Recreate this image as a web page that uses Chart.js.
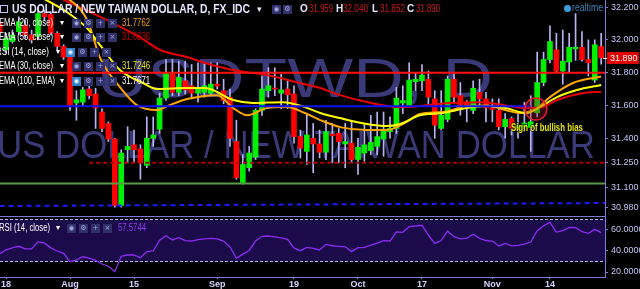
<!DOCTYPE html>
<html>
<head>
<meta charset="utf-8">
<title>USDTWD, D</title>
<script src="https://cdn.jsdelivr.net/npm/chart.js@4.4.1/dist/chart.umd.min.js"></script>
<style>
  html, body { margin: 0; padding: 0; background: #000; overflow: hidden; }
  #wrap { position: relative; width: 640px; height: 289px; background: #000; }
  canvas { position: absolute; left: 0; }
  .t { position: absolute; white-space: nowrap; line-height: 12px; height: 12px;
       font-family: "Liberation Sans", Arial, sans-serif; transform-origin: 0 50%; }
  .ic { position: absolute; width: 9px; height: 9px; background: #30306a; color: #a8a8e0;
        font: 7px/9px "DejaVu Sans", sans-serif; text-align: center; }
  .ic.hl { background: #2f7fc8; color: #e0f0ff; }
</style>
</head>
<body>
<div id="wrap">
  <canvas id="price" width="640" height="216" style="top:0"></canvas>
  <canvas id="rsi" width="640" height="73" style="top:216px"></canvas>
</div>
<script>
  // 日线 USD/TWD，索引 0 = Jul 18 2016，第一根是 Jul 15 (-1)
  const FIRST_IDX = -1;
  const opens = [32.10, 31.94, 31.99, 32.05, 32.09, 32.03, 32.02, 32.16, 32.155, 32.04, 31.96,
    31.895, 31.615, 31.62, 31.70, 31.67, 31.56, 31.49, 31.395, 30.99, 31.33,
    31.36, 31.335, 31.235, 31.40, 31.455, 31.645, 31.79, 31.68, 31.75, 31.72,
    31.675, 31.68, 31.675, 31.73, 31.69, 31.65, 31.38, 31.13, 31.22, 31.285,
    31.57, 31.69, 31.705, 31.675, 31.70, 31.67, 31.41, 31.32, 31.40, 31.365,
    31.315, 31.425, 31.43, 31.365, 31.37, 31.27, 31.31, 31.325, 31.35, 31.395,
    31.44, 31.46, 31.615, 31.60, 31.745, 31.75, 31.76, 31.64, 31.46, 31.515,
    31.76, 31.66, 31.62, 31.57, 31.68, 31.64, 31.585, 31.57, 31.47, 31.52,
    31.46, 31.468, 31.465, 31.555, 31.74, 31.88, 31.94, 31.81, 31.865, 31.945,
    31.955, 31.88, 31.755, 31.959];
  const highs = [32.13, 32.04, 32.06, 32.14, 32.12, 32.06, 32.20, 32.18, 32.17, 32.05, 31.97,
    31.90, 31.69, 31.71, 31.73, 31.705, 31.58, 31.50, 31.40, 31.33, 31.47,
    31.45, 31.36, 31.53, 31.53, 31.675, 31.88, 31.88, 31.87, 31.87, 31.85,
    31.86, 31.86, 31.86, 31.86, 31.76, 31.70, 31.51, 31.30, 31.35, 31.58,
    31.78, 31.83, 31.83, 31.79, 31.75, 31.72, 31.45, 31.54, 31.49, 31.45,
    31.51, 31.49, 31.46, 31.49, 31.51, 31.40, 31.49, 31.54, 31.56, 31.56,
    31.53, 31.71, 31.72, 31.86, 31.80, 31.85, 31.81, 31.69, 31.69, 31.78,
    31.79, 31.74, 31.63, 31.75, 31.76, 31.68, 31.64, 31.64, 31.55, 31.53,
    31.55, 31.62, 31.66, 31.925, 31.925, 32.085, 32.04, 32.06, 32.04, 32.16,
    32.05, 32.00, 32.00, 32.04];
  const lows = [32.02, 31.92, 31.98, 32.03, 32.01, 31.98, 32.00, 32.12, 32.03, 31.94, 31.88,
    31.57, 31.51, 31.60, 31.64, 31.46, 31.44, 31.38, 30.98, 30.98, 31.25,
    31.255, 31.15, 31.22, 31.35, 31.43, 31.63, 31.66, 31.66, 31.67, 31.64,
    31.62, 31.65, 31.66, 31.70, 31.61, 31.35, 31.15, 31.12, 31.20, 31.27,
    31.54, 31.65, 31.66, 31.58, 31.58, 31.37, 31.28, 31.24, 31.19, 31.28,
    31.27, 31.25, 31.25, 31.22, 31.25, 31.18, 31.26, 31.30, 31.30, 31.29,
    31.40, 31.43, 31.55, 31.59, 31.69, 31.69, 31.60, 31.40, 31.45, 31.50,
    31.62, 31.54, 31.50, 31.55, 31.59, 31.50, 31.50, 31.45, 31.40, 31.42,
    31.40, 31.44, 31.32, 31.53, 31.72, 31.86, 31.80, 31.73, 31.80, 31.875,
    31.87, 31.78, 31.74, 31.852];
  const closes = [32.05, 32.01, 32.03, 32.11, 32.03, 32.00, 32.16, 32.14, 32.04, 31.96, 31.895,
    31.60, 31.635, 31.695, 31.66, 31.585, 31.46, 31.395, 30.99, 31.31, 31.35,
    31.33, 31.25, 31.40, 31.42, 31.645, 31.795, 31.68, 31.77, 31.695, 31.675,
    31.71, 31.72, 31.73, 31.718, 31.63, 31.40, 31.16, 31.24, 31.31, 31.57,
    31.70, 31.72, 31.70, 31.695, 31.665, 31.41, 31.34, 31.42, 31.365, 31.315,
    31.44, 31.415, 31.38, 31.38, 31.27, 31.345, 31.36, 31.375, 31.41, 31.455,
    31.46, 31.645, 31.63, 31.755, 31.76, 31.785, 31.65, 31.48, 31.54, 31.76,
    31.65, 31.595, 31.60, 31.705, 31.64, 31.585, 31.575, 31.47, 31.515, 31.46,
    31.48, 31.493, 31.50, 31.74, 31.88, 31.99, 31.81, 31.87, 31.955, 31.955,
    31.88, 31.86, 31.97, 31.89];

  // RSI(14) 每根K线一个值
  const rsi = [37.5, 41, 43, 44.5, 42, 42, 48.9, 47.5, 43, 40, 37.8,
    29.8, 31.5, 34.5, 33.2, 31, 27.6, 25.5, 20.3, 35, 36.2,
    36.2, 33.5, 39.4, 40, 50.3, 54.6, 50.5, 52.7, 49.8, 49.5,
    50.8, 51.5, 52, 51.6, 49.5, 44, 33, 37, 40.5, 49.5,
    54, 54.3, 53.5, 52.5, 51, 43, 40.3, 43.5, 42.5, 41,
    46.3, 45, 44.5, 44, 39.4, 43.2, 43.5, 45.5, 47.5, 49.8,
    49.5, 58.2, 57.8, 63.3, 63.8, 64.5, 55, 47.3, 50, 59,
    53.6, 51.5, 52, 55.9, 52.1, 50, 49.5, 44.8, 47.3, 44.8,
    45.3, 46.5, 48.5, 59.3, 64, 67.3, 58, 59.5, 62.5, 62.2,
    58.4, 56.8, 60.6, 57.57];

  // 均线：点 (K线索引, 价格)
  const ema20Idx = [8, 12.7, 14.7, 17.8, 20.5, 23.6, 25.2, 28.3, 33, 35.5, 37.7, 40.8, 43.9, 46.7, 49.1,
    52.2, 56.4, 59.5, 62.3, 64.7, 68.3, 72, 75.2, 78, 80.3, 83, 85, 88.6, 93];
  const ema20Val = [32.30, 32.12, 31.89, 31.712, 31.60, 31.572, 31.596, 31.639, 31.663, 31.584, 31.54, 31.584,
    31.59, 31.554, 31.511, 31.468, 31.45, 31.45, 31.493, 31.548, 31.56, 31.596, 31.60, 31.572, 31.554,
    31.584, 31.651, 31.737, 31.7762];
  const ema30Idx = [5, 9.5, 12.7, 14.7, 17.8, 21.4, 23.6, 28.3, 31.1, 35.5, 38.6, 43.3, 46.7, 49.1, 52.2,
    56.4, 59.5, 61.6, 64.7, 68.3, 72, 75.2, 78, 81.4, 83.4, 86.1, 89.2, 93];
  const ema30Val = [32.27, 32.17, 32.07, 31.968, 31.816, 31.737, 31.70, 31.706, 31.706, 31.633, 31.615, 31.62,
    31.59, 31.554, 31.523, 31.487, 31.474, 31.487, 31.54, 31.554, 31.584, 31.596, 31.584, 31.554, 31.59,
    31.651, 31.694, 31.7246];
  const ema55Idx = [7, 13.1, 16.3, 20.9, 24.1, 28.3, 31.1, 35.5, 40.8, 45.9, 49.1, 52.2, 56.4, 61.6, 69.4,
    74.5, 78, 81.4, 83.9, 86.1, 90.2, 93];
  const ema55Val = [32.28, 32.17, 32.11, 32.017, 31.938, 31.895, 31.859, 31.816, 31.785, 31.737, 31.706,
    31.663, 31.621, 31.59, 31.615, 31.62, 31.60, 31.584, 31.59, 31.633, 31.676, 31.6836];

  // 手画的水平线 / 趋势线 [x1, y1, x2, y2]
  const redLine = [-1, 31.80, 93.6, 31.80];
  const blueLine = [-1, 31.595, 82, 31.595];
  const redDash = [13, 31.25, 93.6, 31.25];
  const greenLine = [-1, 31.124, 93.6, 31.124];
  const blueDash = [-1, 30.987, 93.6, 31.005];
  const circleAt = [82.8, 31.578];
  const noteAt = [78.9, 31.462];
  const noteText = "Sign of bullish bias";

  const priceTicks = [32.2, 32.0, 31.8, 31.6, 31.4, 31.25, 31.1, 30.98];
  const rsiTicks = [60, 40, 20];
  const timeTickIdx = [0, 10, 20, 33, 45, 55, 65, 76, 85];
  const timeTickLabels = ["18", "Aug", "15", "Sep", "19", "Oct", "17", "Nov", "14"];
  const lastClose = 31.89;

  const X_MIN = -0.94, X_MAX = 93.6;
  const AXIS = "#7c7cd8";
  const FONT = '"Liberation Sans", Arial, sans-serif';
  Chart.defaults.font.family = FONT;

  function seg(a) {
    return [{ x: a[0], y: a[1] }, { x: a[2], y: a[3] }];
  }
  function pts(idx, val) {
    return idx.map((x, k) => ({ x: x, y: val[k] }));
  }

  const xs = opens.map((_, k) => k + FIRST_IDX);
  const bodies = xs.map((x, k) => ({ x: x, y: [opens[k], closes[k]] }));
  const wicks = xs.map((x, k) => ({ x: x, y: [lows[k], highs[k]] }));
  const bodyColors = opens.map((o, k) => (closes[k] >= o ? "#00f000" : "#ff0000"));

  function drawFitted(ctx, text, cx, baseY, size, width) {
    ctx.font = size + "px " + FONT;
    const w = ctx.measureText(text).width;
    ctx.save();
    ctx.translate(cx, baseY);
    ctx.scale(width / w, 1);
    ctx.textAlign = "center";
    ctx.fillText(text, 0, 0);
    ctx.restore();
  }

  const watermark = {
    id: "watermark",
    beforeDatasetsDraw(chart) {
      const ctx = chart.ctx;
      ctx.save();
      ctx.fillStyle = "#3a3a78";
      drawFitted(ctx, "USDTWD, D", 295, 97, 56, 396);
      drawFitted(ctx, "US DOLLAR / NEW TAIWAN DOLLAR", 296, 158, 39, 598);
      ctx.restore();
    },
  };

  const marks = {
    id: "marks",
    afterDatasetsDraw(chart) {
      const { ctx, scales } = chart;
      const tx = scales.x.getPixelForValue(noteAt[0]);
      const ty = scales.y.getPixelForValue(noteAt[1]);
      ctx.save();
      ctx.font = "bold 10px " + FONT;
      const w = ctx.measureText(noteText).width;
      ctx.translate(tx, ty);
      ctx.scale(72 / w, 1);
      ctx.textBaseline = "middle";
      ctx.lineWidth = 2;
      ctx.strokeStyle = "rgba(0,0,0,0.6)";
      ctx.strokeText(noteText, 0, 0);
      ctx.fillStyle = "#e6e600";
      ctx.fillText(noteText, 0, 0);
      ctx.restore();
    },
    afterDraw(chart) {
      const { ctx, scales, chartArea } = chart;
      const py = Math.round(scales.y.getPixelForValue(lastClose));
      ctx.save();
      ctx.fillStyle = "#ffffff";
      ctx.fillRect(chartArea.right - 2, py, 4, 1);
      ctx.fillStyle = "#e00000";
      ctx.fillRect(chartArea.right + 2, py - 6, 32, 12);
      ctx.fillStyle = "#ffffff";
      ctx.font = "9px " + FONT;
      ctx.textBaseline = "middle";
      ctx.fillText(lastClose.toFixed(3), chartArea.right + 5, py + 0.5);
      ctx.restore();
    },
  };

  const lineDs = (data, color, order, extra) =>
    Object.assign({ type: "line", data: data, borderColor: color, borderWidth: 2, pointRadius: 0,
      fill: false, order: order }, extra || {});

  new Chart(document.getElementById("price"), {
    type: "bar",
    data: {
      datasets: [
        { type: "bar", data: wicks, backgroundColor: "#b4b4f4", barThickness: 1, grouped: false, order: 6 },
        { type: "bar", data: bodies, backgroundColor: bodyColors, barThickness: 5, grouped: false,
          minBarLength: 1, order: 5 },
        lineDs(pts(ema55Idx, ema55Val), "#e80000", 3, { cubicInterpolationMode: "monotone" }),
        lineDs(pts(ema30Idx, ema30Val), "#ffff00", 2, { cubicInterpolationMode: "monotone" }),
        lineDs(pts(ema20Idx, ema20Val), "#ffa500", 2, { cubicInterpolationMode: "monotone" }),
        lineDs(seg(greenLine), "#5a9a48", 1),
        lineDs(seg(blueDash), "#1c1cff", 1, { borderDash: [5, 4] }),
        lineDs(seg(redDash), "#b00000", 1, { borderDash: [4, 3] }),
        lineDs(seg(blueLine), "#1010ff", 1),
        lineDs(seg(redLine), "#ff1010", 1),
        { type: "line", data: [{ x: circleAt[0], y: circleAt[1] }], showLine: false, pointRadius: 11,
          pointBorderColor: "#e02030", pointBackgroundColor: "rgba(150,20,40,0.35)", pointBorderWidth: 1.5,
          order: 0 },
      ],
    },
    options: {
      responsive: false,
      animation: false,
      events: [],
      layout: { padding: 0, autoPadding: false },
      plugins: { legend: { display: false }, tooltip: { enabled: false } },
      scales: {
        x: { type: "linear", min: X_MIN, max: X_MAX, display: false, offset: false, grid: { offset: false },
          afterFit: (s) => { s.paddingLeft = 0; s.paddingRight = 0; } },
        y: {
          type: "linear", position: "right", min: 30.926, max: 32.243,
          afterBuildTicks: (s) => { s.ticks = priceTicks.map((v) => ({ value: v })); },
          afterFit: (s) => { s.width = 35; s.paddingTop = 0; s.paddingBottom = 0; },
          ticks: { color: "#c4c4f4", font: { size: 9 }, padding: 3, callback: (v) => Number(v).toFixed(3) },
          grid: { display: true, drawOnChartArea: false, drawTicks: true, tickLength: 3, color: AXIS },
          border: { display: true, color: AXIS, width: 1 },
        },
      },
    },
    plugins: [watermark, marks],
  });

  const band = {
    id: "band",
    beforeDatasetsDraw(chart) {
      const { ctx, chartArea, scales } = chart;
      const y70 = scales.y.getPixelForValue(70);
      const y30 = scales.y.getPixelForValue(30);
      ctx.save();
      ctx.fillStyle = "#1c0b4a";
      ctx.fillRect(chartArea.left, y70, chartArea.right - chartArea.left, y30 - y70);
      ctx.fillStyle = AXIS;
      ctx.fillRect(0, 0, chartArea.right, 1);
      ctx.restore();
    },
  };

  new Chart(document.getElementById("rsi"), {
    type: "line",
    data: {
      datasets: [
        { data: xs.map((x, k) => ({ x: x, y: rsi[k] })), borderColor: "#8a2cf2", borderWidth: 1.3,
          pointRadius: 0, tension: 0 },
        { data: [{ x: X_MIN, y: 70 }, { x: X_MAX, y: 70 }], borderColor: "#b8b8f0", borderWidth: 1,
          borderDash: [3, 2], pointRadius: 0 },
        { data: [{ x: X_MIN, y: 30 }, { x: X_MAX, y: 30 }], borderColor: "#b8b8f0", borderWidth: 1,
          borderDash: [3, 2], pointRadius: 0 },
      ],
    },
    options: {
      responsive: false,
      animation: false,
      events: [],
      layout: { padding: 0, autoPadding: false },
      plugins: { legend: { display: false }, tooltip: { enabled: false } },
      scales: {
        x: {
          type: "linear", position: "bottom", min: X_MIN, max: X_MAX,
          afterBuildTicks: (s) => { s.ticks = timeTickIdx.map((v) => ({ value: v })); },
          afterFit: (s) => { s.height = 12; s.paddingLeft = 0; s.paddingRight = 0; },
          ticks: { color: "#d4d4ff", font: { size: 9, weight: "bold" }, padding: 0, maxRotation: 0,
            autoSkip: false, callback: (v) => timeTickLabels[timeTickIdx.indexOf(v)] },
          grid: { display: true, drawOnChartArea: false, drawTicks: true, tickLength: 2, color: AXIS },
          border: { display: true, color: AXIS, width: 1 },
        },
        y: {
          type: "linear", position: "right", min: 15.24, max: 73.33,
          afterBuildTicks: (s) => { s.ticks = rsiTicks.map((v) => ({ value: v })); },
          afterFit: (s) => { s.width = 35; s.paddingTop = 0; s.paddingBottom = 0; },
          ticks: { color: "#c4c4f4", font: { size: 9 }, padding: 3, callback: (v) => Number(v).toFixed(4) },
          grid: { display: true, drawOnChartArea: false, drawTicks: true, tickLength: 3, color: AXIS },
          border: { display: true, color: AXIS, width: 1 },
        },
      },
    },
    plugins: [band],
  });

  // 左上角图例
  const wrap = document.getElementById("wrap");
  function addText(txt, left, cy, o) {
    const d = document.createElement("div");
    d.className = "t";
    d.textContent = txt;
    d.style.left = left + "px";
    d.style.top = cy - 6 + "px";
    d.style.fontSize = (o.size || 10) + "px";
    d.style.fontWeight = o.bold ? "bold" : "normal";
    d.style.color = o.color || "#ffffff";
    wrap.appendChild(d);
    if (o.w) {
      const nat = d.getBoundingClientRect().width;
      d.style.transform = "scaleX(" + o.w / nat + ")";
    }
    return d;
  }
  function addIcon(left, cy, sym, hl) {
    const d = document.createElement("div");
    d.className = "ic" + (hl ? " hl" : "");
    d.textContent = sym;
    d.style.left = left + "px";
    d.style.top = cy - 4.5 + "px";
    wrap.appendChild(d);
  }

  const box = document.createElement("div");
  box.style.cssText = "position:absolute;left:0;top:5px;width:6px;height:6px;border:1px solid #c0c0ff";
  wrap.appendChild(box);
  addText("US DOLLAR / NEW TAIWAN DOLLAR, D, FX_IDC", 12, 9, { size: 12, bold: true, color: "#e4e4ff", w: 238 });
  addText("▾", 257, 9, { size: 9, color: "#e4e4ff" });
  addIcon(272, 9, "◉");
  addIcon(283, 9, "⚙");
  addText("O", 300, 9, { size: 10, bold: true, color: "#e4e4ff" });
  addText("31.959", 309, 9, { size: 10, color: "#d01818", w: 24 });
  addText("H", 336, 9, { size: 10, bold: true, color: "#e4e4ff" });
  addText("32.040", 343, 9, { size: 10, color: "#d01818", w: 25 });
  addText("L", 372, 9, { size: 10, bold: true, color: "#e4e4ff" });
  addText("31.852", 380, 9, { size: 10, color: "#d01818", w: 25 });
  addText("C", 407, 9, { size: 10, bold: true, color: "#e4e4ff" });
  addText("31.890", 416, 9, { size: 10, color: "#d01818", w: 24 });

  const rows = [
    ["EMA (20, close)", 23, "31.7762", "#f5a000", -1, 54, 60, 72, -1],
    ["EMA (55, close)", 37, "31.6836", "#c40000", -1, 54, 60, 72, -1],
    ["RSI (14, close)", 52, "", "", -4, 53, 56, 66, 0],
    ["EMA (30, close)", 66, "31.7246", "#e6e600", -1, 54, 60, 72, -1],
    ["EMA (100, EMA)", 81, "31.7671", "#ffffff", -1, 56, 60, 72, 0],
  ];
  rows.forEach((r) => {
    addText(r[0], r[4], r[1], { size: 10, color: "#ffffff", w: r[5] });
    addText("▾", r[6], r[1], { size: 8, color: "#ffffff" });
    ["◉", "⚙", "+", "×"].forEach((s, k) => addIcon(r[7] + k * 12, r[1], s, k === r[8]));
    if (r[2]) addText(r[2], 122, r[1], { size: 10, color: r[3], w: 28 });
  });

  addText("RSI (14, close)", -1, 228, { size: 10, color: "#ffffff", w: 51 });
  addText("▾", 56, 228, { size: 8, color: "#ffffff" });
  ["◉", "⚙", "+", "×"].forEach((s, k) => addIcon(67 + k * 12, 228, s, false));
  addText("57.5744", 118, 228, { size: 10, color: "#9038f8", w: 28 });

  const dot = document.createElement("div");
  dot.style.cssText = "position:absolute;left:564px;top:5px;width:7px;height:7px;border-radius:50%;background:#3c9fe0";
  wrap.appendChild(dot);
  addText("realtime", 572, 8, { size: 10, color: "#3a86b8", w: 31 });
</script>
</body>
</html>
